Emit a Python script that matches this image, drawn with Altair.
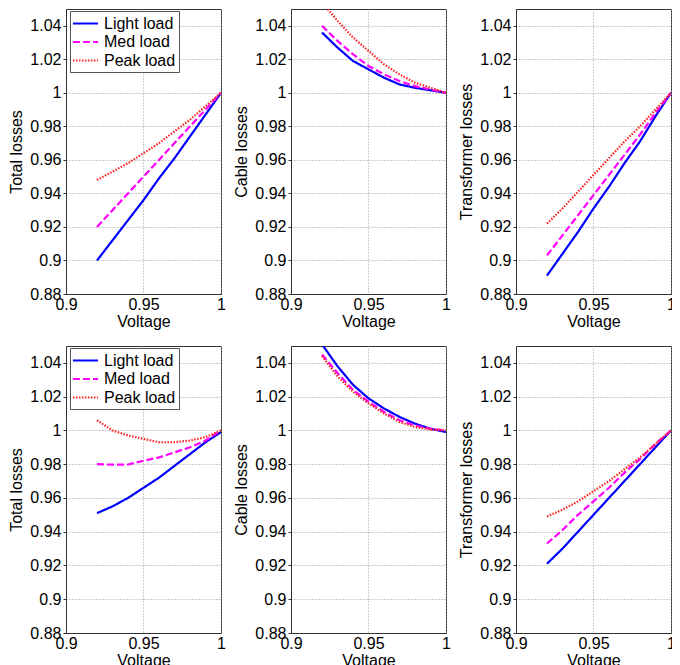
import altair as alt
import pandas as pd

voltage = [0.92, 0.93, 0.94, 0.95, 0.96, 0.97, 0.98, 0.99, 1.0]
series = ["Light load", "Med load", "Peak load"]
colors = ["#0000ff", "#ff00ff", "#ff2020"]
dashes = [[1, 0], [7, 3], [1.5, 1.5]]
widths = [2.2, 2.2, 1.5]

# Top row
top_total_light = [0.900, 0.912, 0.924, 0.936, 0.949, 0.961, 0.974, 0.987, 1.000]
top_total_med = [0.920, 0.930, 0.940, 0.950, 0.960, 0.970, 0.980, 0.990, 1.000]
top_total_peak = [0.948, 0.953, 0.958, 0.964, 0.970, 0.977, 0.984, 0.992, 1.000]

top_cable_light = [1.036, 1.027, 1.019, 1.014, 1.009, 1.005, 1.003, 1.0015, 1.000]
top_cable_med = [1.040, 1.031, 1.023, 1.016, 1.011, 1.007, 1.004, 1.002, 1.000]
top_cable_peak = [1.054, 1.043, 1.033, 1.025, 1.017, 1.011, 1.006, 1.003, 1.000]

top_trafo_light = [0.891, 0.904, 0.917, 0.931, 0.944, 0.958, 0.971, 0.986, 1.000]
top_trafo_med = [0.903, 0.915, 0.927, 0.939, 0.951, 0.963, 0.975, 0.988, 1.000]
top_trafo_peak = [0.922, 0.931, 0.941, 0.951, 0.961, 0.971, 0.980, 0.990, 1.000]

# Bottom row
bot_total_light = [0.951, 0.955, 0.960, 0.966, 0.972, 0.979, 0.986, 0.993, 0.999]
bot_total_med = [0.980, 0.9797, 0.9798, 0.982, 0.984, 0.987, 0.990, 0.994, 1.000]
bot_total_peak = [1.006, 1.000, 0.997, 0.995, 0.993, 0.993, 0.994, 0.996, 1.000]

bot_cable_light = [1.051, 1.038, 1.027, 1.019, 1.013, 1.008, 1.004, 1.001, 0.999]
bot_cable_med = [1.045, 1.034, 1.024, 1.017, 1.011, 1.006, 1.003, 1.001, 1.000]
bot_cable_peak = [1.044, 1.032, 1.023, 1.016, 1.010, 1.005, 1.002, 1.0005, 1.000]

bot_trafo_light = [0.921, 0.930, 0.940, 0.950, 0.960, 0.970, 0.980, 0.990, 1.000]
bot_trafo_med = [0.933, 0.941, 0.950, 0.958, 0.966, 0.975, 0.983, 0.992, 1.000]
bot_trafo_peak = [0.949, 0.953, 0.958, 0.964, 0.970, 0.977, 0.984, 0.992, 1.000]

x_ticks = [0.9, 0.95, 1.0]
y_ticks = [0.88, 0.9, 0.92, 0.94, 0.96, 0.98, 1.0, 1.02, 1.04]

panels = [
    ("Total losses", [top_total_light, top_total_med, top_total_peak], True, 285),
    ("Cable losses", [top_cable_light, top_cable_med, top_cable_peak], False, 285),
    ("Transformer losses", [top_trafo_light, top_trafo_med, top_trafo_peak], False, 285),
    ("Total losses", [bot_total_light, bot_total_med, bot_total_peak], True, 287),
    ("Cable losses", [bot_cable_light, bot_cable_med, bot_cable_peak], False, 287),
    ("Transformer losses", [bot_trafo_light, bot_trafo_med, bot_trafo_peak], False, 287),
]

FONT = "Liberation Sans"


def make_panel(ytitle, values, show_legend, h):
    rows = []
    for s, vals in zip(series, values):
        for v, y in zip(voltage, vals):
            rows.append({"Voltage": v, "loss": y, "Load": s})
    df = pd.DataFrame(rows)
    if show_legend:
        legend = alt.Legend(
            title=None, orient="none", legendX=4, legendY=2,
            strokeColor="#555555", fillColor="white", padding=3,
            labelFont=FONT, labelFontSize=16, labelColor="black",
            symbolType="M-1.5,0H1.5", symbolSize=280, symbolOffset=3,
            labelOffset=9, rowPadding=0.5, symbolOpacity=1,
        )
    else:
        legend = None
    return alt.Chart(df).mark_line(clip=True).encode(
        x=alt.X("Voltage:Q",
                scale=alt.Scale(domain=[0.9, 1.0], nice=False, zero=False),
                axis=alt.Axis(values=x_ticks, title="Voltage", format="~g",
                              labelFlush=False, labelOverlap=False)),
        y=alt.Y("loss:Q",
                scale=alt.Scale(domain=[0.88, 1.05], nice=False, zero=False),
                axis=alt.Axis(values=y_ticks, title=ytitle, format="~g",
                              labelOverlap=False)),
        color=alt.Color("Load:N", sort=series,
                        scale=alt.Scale(domain=series, range=colors), legend=legend),
        strokeDash=alt.StrokeDash("Load:N", sort=series,
                                  scale=alt.Scale(domain=series, range=dashes), legend=legend),
        strokeWidth=alt.StrokeWidth("Load:N", sort=series,
                                    scale=alt.Scale(domain=series, range=widths), legend=legend),
    ).properties(width=155, height=h)


charts = [make_panel(t, v, l, h) for t, v, l, h in panels]

chart = alt.concat(
    *charts, columns=3,
    spacing=alt.RowColnumber(row=52, column=70),
    bounds="flush",
).resolve_legend(
    color="independent", strokeDash="independent", strokeWidth="independent"
).properties(
    padding={"left": 0, "top": 0, "right": -4.5, "bottom": 0},
    background="white",
).configure_view(
    stroke="#333333", strokeWidth=1
).configure_axis(
    labelFont=FONT, titleFont=FONT, labelFontSize=16, titleFontSize=16,
    titleFontWeight="normal", labelColor="black", titleColor="black",
    domainColor="#333333", tickColor="#333333", tickSize=3,
    grid=True, gridDash=[1, 2], gridColor="#999999", gridWidth=1,
    labelPadding=2, titlePadding=3, labelBound=False,
).configure_axisX(
    tickSize=0, labelPadding=2, titlePadding=1,
).configure_axisY(
    titlePadding=5,
)

chart.save("out.html", embed_options={"renderer": "svg", "actions": False})
